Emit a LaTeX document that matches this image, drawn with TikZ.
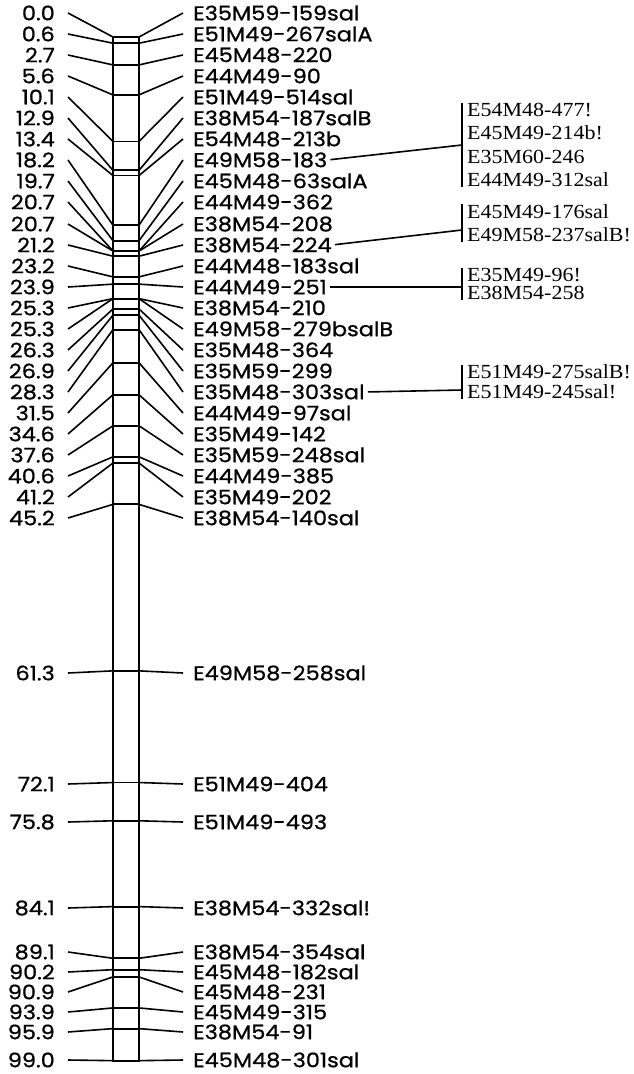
\documentclass[tikz,border=0pt]{standalone}
\usepackage{fontspec}
\setmainfont[FakeStretch=1.1]{Liberation Serif}
\newfontfamily\mapfont[FakeStretch=1.12,FakeBold=0.8]{Poppins}
\usetikzlibrary{positioning}
\tikzset{
  % kopplingskarta
  chrbar/.style={draw=black,line width=2pt},
  cmtick/.style={draw=black,line width=1.8pt},
  lead/.style={draw=black,line width=1.6pt},
  cmnum/.style={anchor=east,inner sep=0pt,font=\mapfont\fontsize{20}{20}\selectfont},
  mk/.style={anchor=west,inner sep=0pt,font=\mapfont\fontsize{20}{20}\selectfont},
  grp/.style={anchor=west,align=left,inner xsep=5pt,inner ysep=0pt},
  grpbar/.style={draw=black,line width=1.7pt},
}
\begin{document}
\begin{tikzpicture}[x=1pt,y=-1pt]
  \useasboundingbox[fill=white] (0,0) rectangle (633,1074);
  \foreach \i/\p/\r/\m in {
      0/0.0/13/E35M59-159sal, 1/0.6/34/E51M49-267salA, 2/2.7/55/E45M48-220,
      3/5.6/76/E44M49-90, 4/10.1/97/E51M49-514sal, 5/12.9/118/E38M54-187salB,
      6/13.4/139/E54M48-213b, 7/18.2/160/E49M58-183, 8/19.7/181/E45M48-63salA,
      9/20.7/202/E44M49-362, 10/20.7/224/E38M54-208, 11/21.2/245/E38M54-224,
      12/23.2/266/E44M48-183sal, 13/23.9/287/E44M49-251, 14/25.3/308/E38M54-210,
      15/25.3/329/E49M58-279bsalB, 16/26.3/350/E35M48-364, 17/26.9/371/E35M59-299,
      18/28.3/392/E35M48-303sal, 19/31.5/413/E44M49-97sal, 20/34.6/434/E35M49-142,
      21/37.6/455/E35M59-248sal, 22/40.6/476/E44M49-385, 23/41.2/497/E35M49-202,
      24/45.2/518/E38M54-140sal, 25/61.3/673/E49M58-258sal, 26/72.1/784/E51M49-404,
      27/75.8/822/E51M49-493, 28/84.1/908/E38M54-332sal!, 29/89.1/952/E38M54-354sal,
      30/90.2/972/E45M48-182sal, 31/90.9/992/E45M48-231, 32/93.9/1012/E45M49-315,
      33/95.9/1032/E38M54-91, 34/99.0/1060/E45M48-301sal} {
    \coordinate (la\i) at (68,\r);
    \coordinate (ra\i) at (183,\r);
    \coordinate (bl\i) at (113,{37+10.34*\p});
    \coordinate (br\i) at (139,{37+10.34*\p});
    \node[cmnum] (n\i) at (55,\r) {\p};
    \node[mk] (m\i) at (193,\r) {\m};
    \draw[lead] (la\i) -- (bl\i);
    \draw[cmtick] (bl\i) -- (br\i);
    \draw[lead] (br\i) -- (ra\i);
  }
  \draw[chrbar] (bl0) rectangle (br34);
  % samlokaliserade markörer
  \node[grp,font=\fontsize{20}{23.5}\selectfont] (g1) at (462,145)
    {E54M48-477!\\E45M49-214b!\\E35M60-246\\E44M49-312sal};
  \node[grp,font=\fontsize{20}{23}\selectfont] (g2) at (462,223)
    {E45M49-176sal\\E49M58-237salB!};
  \node[grp,font=\fontsize{20}{18}\selectfont] (g3) at (462,284)
    {E35M49-96!\\E38M54-258};
  \node[grp,font=\fontsize{20}{20}\selectfont] (g4) at (462,382)
    {E51M49-275salB!\\E51M49-245sal!};
  \coordinate (j1) at (462,145);
  \coordinate (j2) at (462,230);
  \coordinate (j3) at (462,287);
  \coordinate (j4) at (462,390);
  \foreach \g in {1,2,3,4} \draw[grpbar] (g\g.north west) -- (g\g.south west);
  \draw[lead,shorten <=3pt] (m7.east) -- (j1);
  \draw[lead,shorten <=3pt] (m11.east) -- (j2);
  \draw[lead,shorten <=3pt] (m13.east) -- (j3);
  \draw[lead,shorten <=3pt] (m18.east) -- (j4);
\end{tikzpicture}
\end{document}
